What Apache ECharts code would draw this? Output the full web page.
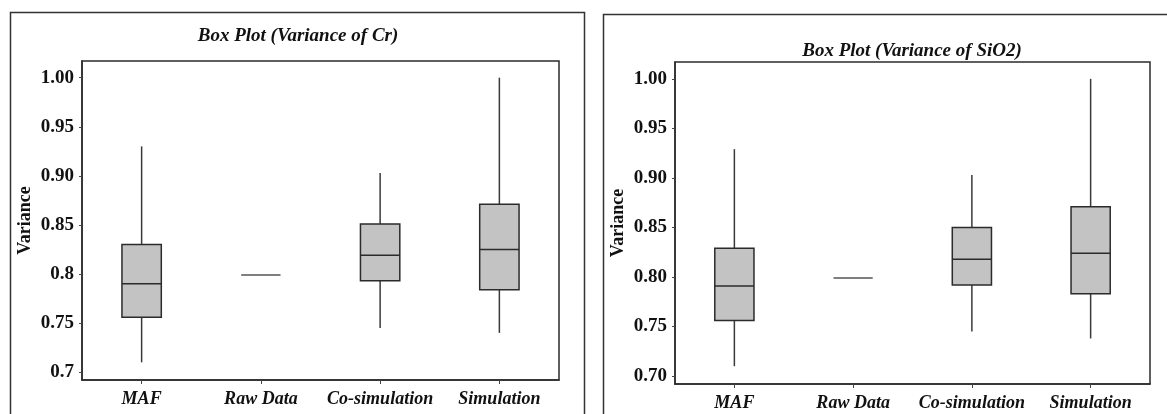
<!DOCTYPE html>
<html>
<head>
<meta charset="utf-8">
<script src="https://cdn.jsdelivr.net/npm/echarts@6/dist/echarts.min.js"></script>
<style>
  html, body { margin: 0; padding: 0; background: #fff; }
  #chart { width: 1167px; height: 414px; }
</style>
</head>
<body>
<div id="chart"></div>
<script>
// ---- data ----
const categories = ['MAF', 'Raw Data', 'Co-simulation', 'Simulation'];

const crMin = [0.710, 0.799, 0.745, 0.740];
const crQ1  = [0.756, 0.799, 0.793, 0.784];
const crMed = [0.790, 0.799, 0.819, 0.825];
const crQ3  = [0.830, 0.799, 0.851, 0.871];
const crMax = [0.930, 0.799, 0.903, 1.000];

const sio2Min = [0.710, 0.799, 0.745, 0.738];
const sio2Q1  = [0.756, 0.799, 0.792, 0.783];
const sio2Med = [0.791, 0.799, 0.818, 0.824];
const sio2Q3  = [0.829, 0.799, 0.850, 0.871];
const sio2Max = [0.929, 0.799, 0.903, 1.000];

const tickValues = [0.70, 0.75, 0.80, 0.85, 0.90, 0.95, 1.00];
const crTickLabels = ['0.7', '0.75', '0.8', '0.85', '0.90', '0.95', '1.00'];
const sio2TickLabels = ['0.70', '0.75', '0.80', '0.85', '0.90', '0.95', '1.00'];

const yRangeMin = 0.692;
const yRangeMax = 1.017;

const titles = ['Box Plot (Variance of Cr)', 'Box Plot (Variance of SiO2)'];
const yName = 'Variance';

// ---- helpers ----
function rows(mn, q1, md, q3, mx) {
  return categories.map((c, i) => [i, mn[i], q1[i], md[i], q3[i], mx[i]]);
}
function labelFor(list) {
  return function (v) {
    const i = tickValues.findIndex(t => Math.abs(t - v) < 1e-6);
    return i >= 0 ? list[i] : '';
  };
}
const STROKE = '#2b2b2b';
function renderBox(params, api) {
  const ci = api.value(0);
  const lo = api.coord([ci, api.value(1)]);
  const q1 = api.coord([ci, api.value(2)]);
  const md = api.coord([ci, api.value(3)]);
  const q3 = api.coord([ci, api.value(4)]);
  const hi = api.coord([ci, api.value(5)]);
  const bw = api.size([1, 0])[0] * 0.33;
  const cx = md[0];
  const children = [];
  if (Math.abs(q1[1] - q3[1]) < 0.5) {
    children.push({ type: 'line', shape: { x1: cx - bw / 2, y1: md[1], x2: cx + bw / 2, y2: md[1] },
      style: { stroke: '#555', lineWidth: 1.6 } });
  } else {
    children.push({ type: 'line', shape: { x1: cx, y1: hi[1], x2: cx, y2: q3[1] },
      style: { stroke: '#3a3a3a', lineWidth: 1.5 } });
    children.push({ type: 'line', shape: { x1: cx, y1: q1[1], x2: cx, y2: lo[1] },
      style: { stroke: '#3a3a3a', lineWidth: 1.5 } });
    children.push({ type: 'rect', shape: { x: cx - bw / 2, y: q3[1], width: bw, height: q1[1] - q3[1] },
      style: { fill: '#c3c3c3', stroke: STROKE, lineWidth: 1.5 } });
    children.push({ type: 'line', shape: { x1: cx - bw / 2, y1: md[1], x2: cx + bw / 2, y2: md[1] },
      style: { stroke: STROKE, lineWidth: 1.5 } });
  }
  return { type: 'group', children: children };
}

const serif = '"Liberation Serif", "Times New Roman", serif';

function xAxisOf(gi) {
  return {
    type: 'category', gridIndex: gi, data: categories, boundaryGap: true,
    axisLine: { show: true, lineStyle: { color: STROKE, width: 1.5 } },
    axisTick: { show: true, alignWithLabel: true, interval: 0, length: 4, lineStyle: { color: '#444' } },
    axisLabel: { interval: 0, margin: 10, fontFamily: serif, fontSize: 18, fontWeight: 'bold', fontStyle: 'italic', color: '#111' },
    splitLine: { show: false }
  };
}
function yAxisOf(gi, labels) {
  return {
    type: 'value', gridIndex: gi, min: yRangeMin, max: yRangeMax,
    name: yName, nameLocation: 'middle', nameGap: 48, nameRotate: 90,
    nameTextStyle: { fontFamily: serif, fontSize: 18, fontWeight: 'bold', color: '#111' },
    axisLine: { show: true, lineStyle: { color: STROKE, width: 1.5 } },
    axisTick: { show: true, length: 3, customValues: tickValues, lineStyle: { color: '#444' } },
    axisLabel: { margin: 8, customValues: tickValues, formatter: labelFor(labels),
      fontFamily: serif, fontSize: 19, fontWeight: 'bold', color: '#111' },
    splitLine: { show: false }
  };
}

const chart = echarts.init(document.getElementById('chart'), null, { renderer: 'canvas' });
chart.setOption({
  animation: false,
  backgroundColor: '#fff',
  title: [
    { text: titles[0], left: 293, top: 22, textAlign: 'center',
      textStyle: { fontFamily: serif, fontSize: 19, fontWeight: 'bold', fontStyle: 'italic', color: '#111' } },
    { text: titles[1], left: 907, top: 37, textAlign: 'center',
      textStyle: { fontFamily: serif, fontSize: 19, fontWeight: 'bold', fontStyle: 'italic', color: '#111' } }
  ],
  graphic: [
    { type: 'rect', shape: { x: 10.5, y: 12.5, width: 574, height: 430 },
      style: { fill: null, stroke: '#333', lineWidth: 1.5 }, silent: true, z: -1 },
    { type: 'rect', shape: { x: 603.5, y: 14.5, width: 700, height: 430 },
      style: { fill: null, stroke: '#333', lineWidth: 1.5 }, silent: true, z: -1 }
  ],
  grid: [
    { left: 82, right: 608, top: 61, bottom: 34, show: true, borderColor: STROKE, borderWidth: 1.5, backgroundColor: '#fff' },
    { left: 675, right: 17, top: 62, bottom: 30, show: true, borderColor: STROKE, borderWidth: 1.5, backgroundColor: '#fff' }
  ],
  xAxis: [xAxisOf(0), xAxisOf(1)],
  yAxis: [yAxisOf(0, crTickLabels), yAxisOf(1, sio2TickLabels)],
  series: [
    { type: 'custom', name: 'Cr', xAxisIndex: 0, yAxisIndex: 0,
      data: rows(crMin, crQ1, crMed, crQ3, crMax),
      encode: { x: 0, y: [1, 2, 3, 4, 5] }, renderItem: renderBox },
    { type: 'custom', name: 'SiO2', xAxisIndex: 1, yAxisIndex: 1,
      data: rows(sio2Min, sio2Q1, sio2Med, sio2Q3, sio2Max),
      encode: { x: 0, y: [1, 2, 3, 4, 5] }, renderItem: renderBox }
  ]
});
</script>
</body>
</html>
